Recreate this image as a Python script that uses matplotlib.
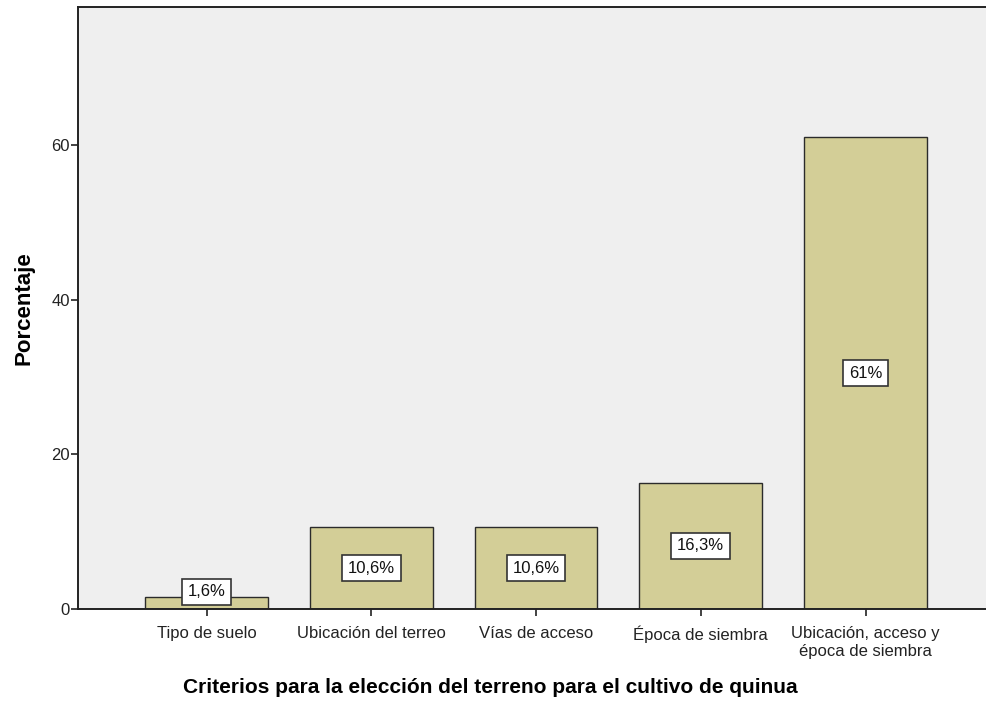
import matplotlib
matplotlib.use("Agg")
import matplotlib.pyplot as plt

# categories and percentages
categories = [
    "Tipo de suelo",
    "Ubicación del terreo",
    "Vías de acceso",
    "Época de siembra",
    "Ubicación, acceso y\népoca de siembra",
]
percentages = [1.6, 10.6, 10.6, 16.3, 61.0]
bar_labels = ["1,6%", "10,6%", "10,6%", "16,3%", "61%"]
y_ticks = [0, 20, 40, 60]

plt.rcParams["font.family"] = ["Liberation Sans", "DejaVu Sans"]

fig = plt.figure(figsize=(9.87, 7.02), dpi=100)
ax = fig.add_axes([78 / 987, 93 / 702, 1 - 78 / 987, 602 / 702])
ax.set_facecolor("#efefef")

xs = list(range(len(categories)))
ax.bar(xs, percentages, width=0.745, color="#d3ce97",
       edgecolor="#2b2b2b", linewidth=1.0, zorder=2)

for x, h, lab in zip(xs, percentages, bar_labels):
    # small bars: keep the label box above the axis line
    ax.text(x, max(h / 2, 2.2), lab, ha="center", va="center", fontsize=12,
            color="#111111", zorder=3,
            bbox=dict(boxstyle="square,pad=0.35", facecolor="white",
                      edgecolor="#333333", linewidth=1.2))

ax.set_xlim(-0.78, 4.737)
ax.set_ylim(0, 77.85)
ax.set_yticks(y_ticks)
ax.set_yticklabels([str(t) for t in y_ticks], fontsize=12, color="#222222")
ax.set_xticks(xs)
ax.set_xticklabels(categories, fontsize=12, color="#222222", linespacing=1.3)
ax.tick_params(axis="both", length=5, width=1.2, color="#222222")
ax.tick_params(axis="x", pad=7)
ax.tick_params(axis="y", pad=1)

for side in ("left", "bottom", "top"):
    ax.spines[side].set_linewidth(1.4)
    ax.spines[side].set_color("#222222")
ax.spines["right"].set_visible(False)

ax.set_ylabel("Porcentaje", fontsize=16, fontweight="bold", labelpad=12)
ax.set_xlabel("Criterios para la elección del terreno para el cultivo de quinua",
              fontsize=15, fontweight="bold", labelpad=18)
ax.xaxis.set_label_coords(0.454, -0.115)

fig.savefig("out.png", dpi=100)
